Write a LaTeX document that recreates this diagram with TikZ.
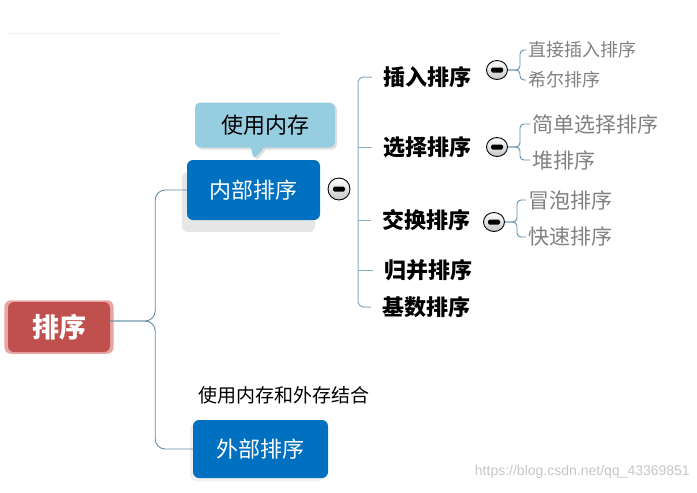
\documentclass[tikz,border=0pt]{standalone}
\usepackage{fontspec}
\setmainfont{Noto Sans CJK SC}
\newfontfamily\urlfont{Liberation Sans}
\usetikzlibrary{shapes.callouts,shapes.geometric,shadows}

\definecolor{rootred}{RGB}{192,80,77}
\definecolor{rootglow}{RGB}{232,165,165}
\definecolor{boxblue}{RGB}{0,112,192}
\definecolor{noteblue}{RGB}{150,205,225}
\definecolor{branchline}{RGB}{95,140,170}
\definecolor{spineline}{RGB}{135,172,192}
\definecolor{leafgray}{RGB}{128,128,128}

\tikzset{
  topicbox/.style={rounded corners=6pt, fill=boxblue, text=white, inner sep=0pt,
    font=\fontsize{22}{24}\selectfont},
  foldmark/.style={ellipse, draw=black, line width=0.9pt, inner sep=0pt,
    minimum width=21pt, minimum height=19pt, top color=white, bottom color=gray!45,
    path picture={\fill[black, rounded corners=1.5pt]
      ([xshift=-6pt,yshift=-2.5pt]path picture bounding box.center) rectangle
      ([xshift=6pt,yshift=2.5pt]path picture bounding box.center);}},
  sortlabel/.style={anchor=west, inner sep=0pt, font=\bfseries\fontsize{22}{24}\selectfont},
  leaflabel/.style={anchor=west, inner sep=0pt, text=leafgray},
  branch/.style={draw=branchline, line width=0.9pt},
  spine/.style={draw=spineline, line width=1pt}
}

\begin{document}
\begin{tikzpicture}[x=1pt, y=-1pt]
  \useasboundingbox (0,0) rectangle (697,493);
  \draw[gray!10] (8,33) -- (280,33);
  % draw root and the two topic boxes
  \node[rounded corners=6pt, fill=rootred, text=white, minimum width=102pt, minimum height=50pt,
    font=\bfseries\fontsize{27}{29}\selectfont,
    drop shadow={shadow xshift=0pt, shadow yshift=0pt, shadow scale=1.07, fill=rootglow, opacity=1}]
    (root) at (59,327) {排序};
  \node[topicbox, minimum width=133pt, minimum height=60pt,
    drop shadow={shadow xshift=-5pt, shadow yshift=-12pt, opacity=.2, fill=gray}]
    (inner) at (253.5,190) {内部排序};
  \node[topicbox, minimum width=135pt, minimum height=58pt,
    drop shadow={shadow xshift=-3pt, shadow yshift=-3pt, opacity=.12, fill=gray}]
    (outer) at (260.5,449) {外部排序};
  % note above the inner box
  \node[rectangle callout, rounded corners=5pt, fill=noteblue, minimum width=140pt, minimum height=45pt,
    callout absolute pointer={(inner.north)}, callout pointer width=13pt,
    font=\fontsize{22}{24}\selectfont,
    drop shadow={shadow xshift=2pt, shadow yshift=-2pt, opacity=.25, fill=gray}]
    (memnote) at (265,125) {使用内存};
  \node[anchor=west, inner sep=0pt, font=\fontsize{19}{21}\selectfont] (outernote) at (198,395) {使用内存和外存结合};
  % draw root branches
  \draw[branch, rounded corners=10pt] ([yshift=6pt]root.east) -- ++(45,0) |- (inner.west);
  \draw[branch, rounded corners=10pt] ([yshift=6pt]root.east) -- ++(45,0) |- (outer.west);
  % fold marks
  \node[foldmark, minimum width=22pt, minimum height=22pt] (fold0) at (339,189) {};
  \node[foldmark] (fold1) at (497,70) {};
  \node[foldmark] (fold2) at (497,147) {};
  \node[foldmark] (fold3) at (494,222) {};
  % sort kinds
  \node[sortlabel] (sort1) at (383,77) {插入排序};
  \node[sortlabel] (sort2) at (383,147) {选择排序};
  \node[sortlabel] (sort3) at (382,220) {交换排序};
  \node[sortlabel] (sort4) at (384,270) {归并排序};
  \node[sortlabel] (sort5) at (382,307) {基数排序};
  \coordinate (spinetop) at (358,77);
  \coordinate (spinebot) at (358,307);
  \draw[spine, rounded corners=6pt] ([xshift=-11pt]sort1.west) -- (spinetop) -- (spinebot) -- ([xshift=-11pt]sort5.west);
  \foreach \i in {2,3,4}
    \draw[spine] (spinetop |- sort\i.west) -- ([xshift=-11pt]sort\i.west);
  % leaves
  \node[leaflabel, font=\fontsize{18}{20}\selectfont] (leaf11) at (528,50) {直接插入排序};
  \node[leaflabel, font=\fontsize{18}{20}\selectfont] (leaf12) at (528,80) {希尔排序};
  \node[leaflabel, font=\fontsize{21}{23}\selectfont] (leaf21) at (532,124) {简单选择排序};
  \node[leaflabel, font=\fontsize{21}{23}\selectfont] (leaf22) at (532,160) {堆排序};
  \node[leaflabel, font=\fontsize{21}{23}\selectfont] (leaf31) at (528,200) {冒泡排序};
  \node[leaflabel, font=\fontsize{21}{23}\selectfont] (leaf32) at (528,237) {快速排序};
  \foreach \f/\a/\b in {1/leaf11/leaf12, 2/leaf21/leaf22, 3/leaf31/leaf32} {
    \draw[branch, rounded corners=4pt] (fold\f.east) -- ++(12,0) |- ([xshift=-2pt]\a.west);
    \draw[branch, rounded corners=4pt] (fold\f.east) -- ++(12,0) |- ([xshift=-2pt]\b.west);
  }
  % watermark
  \node[anchor=east, inner sep=0pt, text=gray!45, font=\urlfont\fontsize{14}{16}\selectfont] (mark) at (690,472) {https://blog.csdn.net/qq\_43369851};
\end{tikzpicture}
\end{document}
